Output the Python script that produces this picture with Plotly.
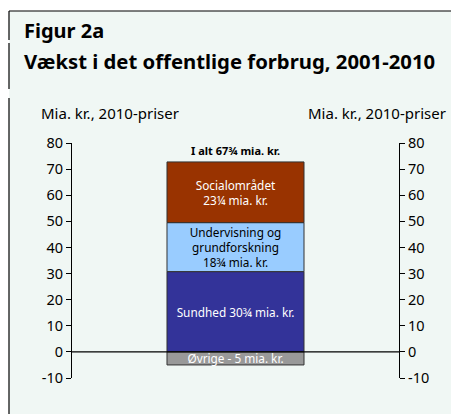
import plotly.graph_objects as go

categories = ["Sundhed", "Undervisning og grundforskning", "Socialområdet", "Øvrige"]
values = [30.75, 18.75, 23.25, -5]
labels = ["Sundhed 30¾ mia. kr.", "Undervisning og<br>grundforskning<br>18¾ mia. kr.",
          "Socialområdet<br>23¼ mia. kr.", "Øvrige - 5 mia. kr."]
colors = ["#333399", "#99ccff", "#993300", "#999999"]
text_colors = ["white", "black", "white", "white"]
total_label = "I alt 67¾ mia. kr."
tick_vals = [-10, 0, 10, 20, 30, 40, 50, 60, 70, 80]
tick_text = ["-10", "0", "10", "20", "30", "40", "50", "60", "70", "80"]
axis_title = "Mia. kr., 2010-priser"

# page is rendered with an 8px body margin; work in page pixels, then offset
OFF = 8
PW, PH = 459, 414
W, H = PW - OFF, PH - OFF
L, R, T, B = 72, 399, 143, 378   # page pixel coordinates of the plot area
BG = "#f0f7f4"
FONT = "Noto Sans"

def px(x):
    return (x - L) / (R - L)

def py(y):
    return (B - y) / (B - T)

fig = go.Figure()
for c, v, lab, col, tc in zip(categories, values, labels, colors, text_colors):
    fig.add_trace(go.Bar(
        x=[0], y=[v], width=0.419, name=c, text=[lab], textposition="inside",
        insidetextanchor="middle", textangle=0, constraintext="none",
        textfont=dict(color=tc, size=11.8, family=FONT),
        marker=dict(color=col, line=dict(color="#333333", width=1)),
        hoverinfo="skip", showlegend=False, yaxis="y"))

# invisible trace for right axis
fig.add_trace(go.Scatter(x=[0], y=[0], yaxis="y2", mode="markers",
                         marker=dict(opacity=0), showlegend=False, hoverinfo="skip"))

total = sum(v for v in values if v > 0)

shapes = [
    dict(type="rect", xref="paper", yref="paper", x0=px(9), x1=px(470), y0=py(11), y1=py(430),
         fillcolor=BG, line=dict(width=0), layer="below"),
    dict(type="line", xref="paper", yref="paper", x0=px(9), x1=px(470), y0=py(11), y1=py(11),
         line=dict(color="black", width=1.2)),
    dict(type="line", xref="paper", yref="paper", x0=px(9), x1=px(9), y0=py(11), y1=py(40),
         line=dict(color="black", width=1.2)),
    dict(type="line", xref="paper", yref="paper", x0=px(9), x1=px(9), y0=py(43), y1=py(89),
         line=dict(color="black", width=1.2)),
    dict(type="line", xref="paper", yref="paper", x0=px(9), x1=px(9), y0=py(98), y1=py(430),
         line=dict(color="black", width=1.2)),
    dict(type="line", xref="paper", yref="y", x0=0, x1=1, y0=0, y1=0,
         line=dict(color="black", width=1.2)),
]

annotations = [
    dict(text="<b>Figur 2a</b>", xref="paper", yref="paper", x=px(22), y=py(30),
         xanchor="left", yanchor="middle", showarrow=False,
         font=dict(size=20, family=FONT, color="black")),
    dict(text="<b>Vækst i det offentlige forbrug, 2001-2010</b>", xref="paper", yref="paper",
         x=px(22), y=py(61), xanchor="left", yanchor="middle", showarrow=False,
         font=dict(size=20.3, family=FONT, color="black")),
    dict(text=axis_title, xref="paper", yref="paper", x=px(39), y=py(113),
         xanchor="left", yanchor="middle", showarrow=False,
         font=dict(size=15, family=FONT, color="black")),
    dict(text=axis_title, xref="paper", yref="paper", x=px(448), y=py(113),
         xanchor="right", yanchor="middle", showarrow=False,
         font=dict(size=15, family=FONT, color="black")),
    dict(text="<b>" + total_label + "</b>", xref="x", yref="y", x=0, y=total,
         xanchor="center", yanchor="bottom", showarrow=False, yshift=2,
         font=dict(size=11, family=FONT, color="black")),
]

axis_common = dict(range=[-10, 80], tickvals=tick_vals, ticktext=tick_text,
                   ticks="outside", ticklen=5,
                   tickcolor="black", showline=True, linecolor="black", linewidth=1.2,
                   showgrid=False, zeroline=False,
                   tickfont=dict(size=14.5, family=FONT, color="black"))

fig.update_layout(
    width=W, height=H,
    margin=dict(l=L - OFF, r=W - (R - OFF), t=T - OFF, b=H - (B - OFF), pad=0),
    paper_bgcolor="white", plot_bgcolor=BG,
    barmode="relative",
    xaxis=dict(range=[-0.5, 0.5], visible=False, fixedrange=True),
    yaxis=dict(side="left", **axis_common),
    yaxis2=dict(side="right", overlaying="y", **axis_common),
    shapes=shapes, annotations=annotations,
    font=dict(family=FONT),
)

fig.write_html("out.html")
